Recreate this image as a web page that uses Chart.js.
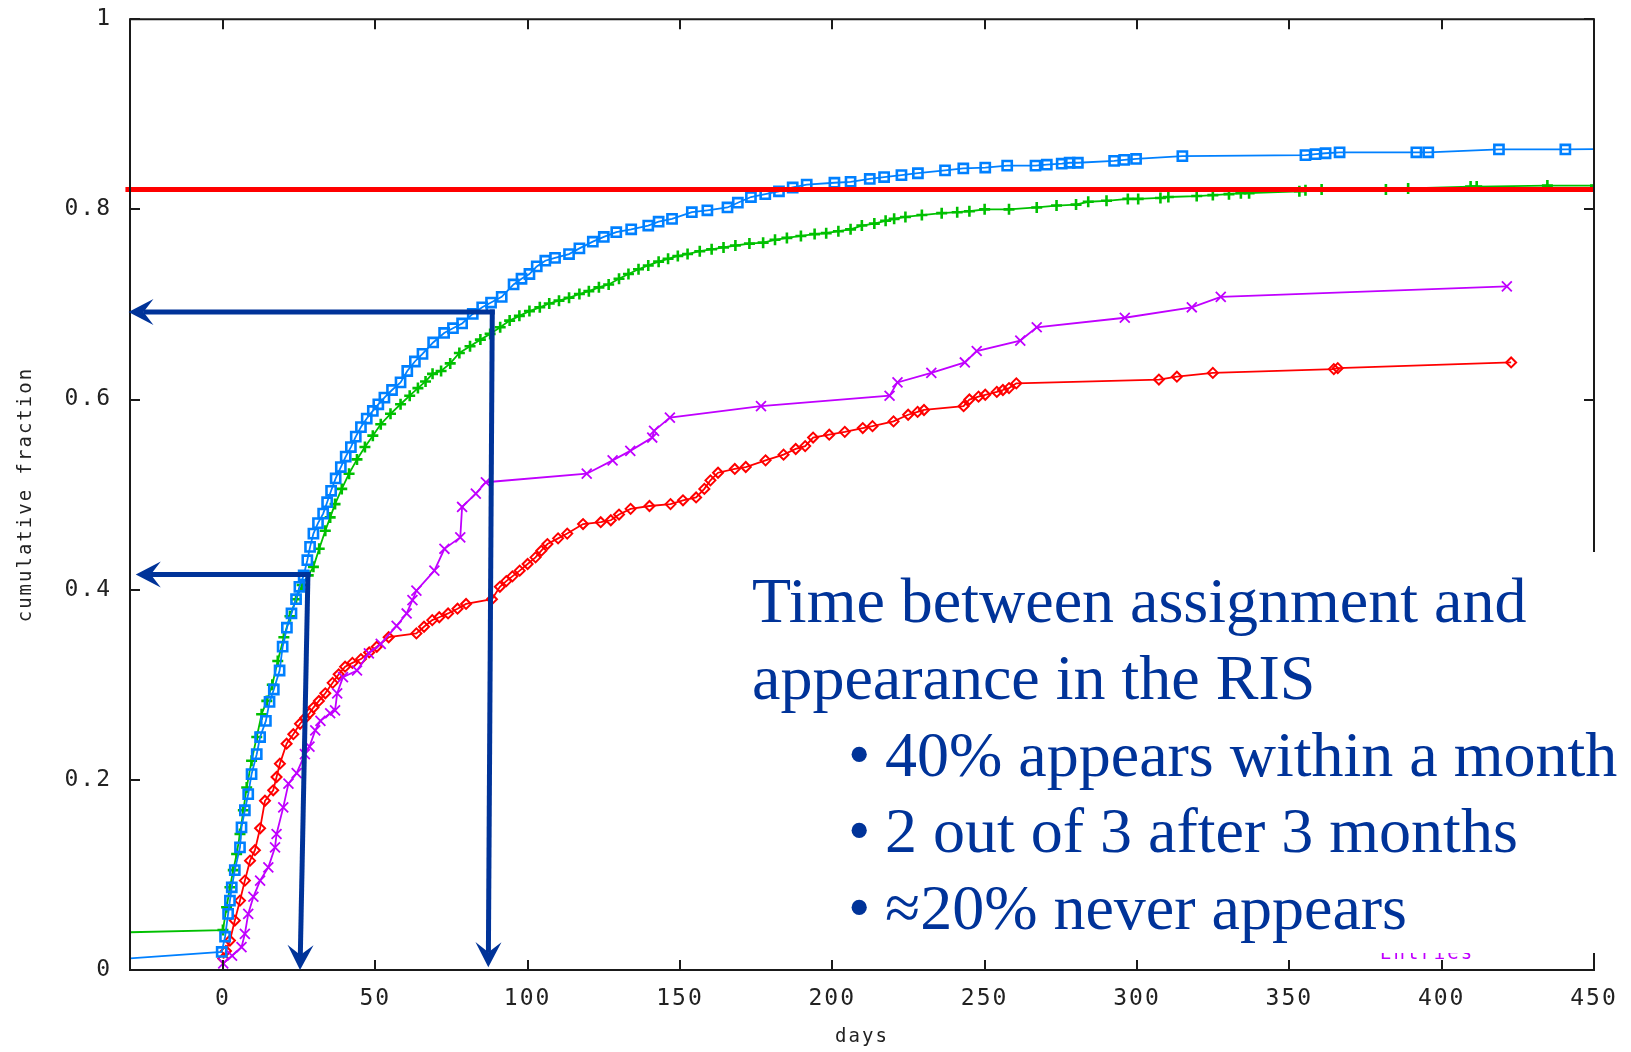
<!DOCTYPE html>
<html>
<head>
<meta charset="utf-8">
<script src="https://cdn.jsdelivr.net/npm/chart.js@4.4.1/dist/chart.umd.min.js"></script>
<style>
html, body { margin: 0; padding: 0; background: #fff; }
#wrap { position: relative; width: 1631px; height: 1052px; overflow: hidden; }
#note {
  position: absolute; left: 738px; top: 552px; width: 893px; height: 401px;
  background: #fff; color: #003399;
  font-family: "Liberation Serif", "Times New Roman", serif; font-size: 64px; line-height: 64px;
}
#note div { position: absolute; white-space: nowrap; }
</style>
</head>
<body>
<div id="wrap">
  <canvas id="chart" width="1631" height="1052"></canvas>
  <div id="note">
    <div style="left:14px; top:17px">Time between assignment and</div>
    <div style="left:14px; top:94px">appearance in the RIS</div>
    <div style="left:110px; top:171px">•</div><div style="left:147px; top:171px">40% appears within a month</div>
    <div style="left:110px; top:247px">•</div><div style="left:147px; top:247px">2 out of 3 after 3 months</div>
    <div style="left:110px; top:324px">•</div><div style="left:147px; top:324px">≈20% never appears</div>
  </div>
</div>
<script>
// ticks
const xTicks = [0, 50, 100, 150, 200, 250, 300, 350, 400, 450];
const yTicks = [0, 0.2, 0.4, 0.6, 0.8, 1];

// cumulative fraction vs days, [days, fraction]
const redSeries = [[0.1,0.012],[1,0.02],[2.3,0.031],[3.9,0.052],[5.6,0.073],[7.2,0.094],[8.9,0.115],[10.5,0.126],[12.2,0.149],[13.8,0.178],[16.5,0.189],[17.6,0.203],[18.7,0.217],[20.9,0.238],[23.1,0.248],[25.3,0.259],[27,0.265],[28.4,0.270],[29.7,0.276],[31.5,0.283],[33.6,0.291],[36,0.302],[38,0.311],[40.1,0.319],[42.5,0.323],[45.3,0.327],[48,0.334],[50.5,0.340],[54.4,0.350],[63.5,0.354],[66,0.361],[68.7,0.368],[71,0.371],[73.9,0.375],[77,0.380],[79.8,0.385],[88.3,0.390],[90.9,0.403],[93,0.409],[95,0.414],[97.4,0.420],[100,0.427],[102.6,0.434],[104.5,0.441],[106.5,0.448],[110,0.454],[113,0.459],[118.2,0.469],[124,0.471],[127.3,0.473],[130,0.479],[133.8,0.485],[140,0.488],[146.9,0.490],[151,0.494],[155.3,0.497],[158,0.506],[160,0.515],[162.5,0.523],[168,0.527],[171.6,0.529],[178.1,0.536],[184,0.542],[188,0.548],[191.1,0.551],[193.7,0.560],[199,0.563],[204.1,0.566],[210,0.570],[213.2,0.572],[220.1,0.577],[224.9,0.584],[228,0.587],[230.1,0.589],[243.1,0.593],[245,0.600],[248,0.603],[250.2,0.605],[254,0.608],[256,0.610],[258,0.612],[260.4,0.617],[307.2,0.621],[313.1,0.624],[324.9,0.628],[364.6,0.632],[365.9,0.633],[422.8,0.639]];

const greenSeries = [[-40,0.039],[0,0.042],[1.2,0.066],[2.3,0.087],[3.4,0.105],[4.5,0.122],[5.6,0.143],[6.7,0.168],[7.8,0.192],[9.4,0.220],[11.1,0.245],[12.7,0.269],[14.4,0.283],[16.2,0.30],[18,0.325],[20,0.35],[22,0.372],[24,0.39],[26,0.405],[28,0.415],[29.7,0.424],[31.6,0.443],[33.6,0.462],[35.2,0.476],[36.8,0.490],[39,0.506],[41.4,0.522],[44,0.537],[46.6,0.550],[49.2,0.562],[51.8,0.574],[55,0.585],[58.3,0.595],[61.3,0.604],[64,0.612],[66.5,0.619],[68.8,0.627],[71.6,0.630],[74.6,0.638],[77.6,0.649],[81.1,0.656],[84.5,0.663],[87.7,0.669],[91,0.676],[94.1,0.683],[97.3,0.688],[100.6,0.693],[104,0.697],[107.1,0.701],[110.3,0.704],[113.6,0.707],[117,0.711],[120.1,0.714],[123.4,0.718],[126.6,0.721],[130,0.727],[133.1,0.732],[136.4,0.737],[139.6,0.741],[143,0.745],[146.1,0.748],[149.3,0.751],[152.5,0.753],[156.5,0.756],[160.4,0.758],[164.3,0.760],[168.2,0.762],[172.8,0.764],[177.3,0.765],[181.2,0.768],[185.1,0.770],[189.7,0.772],[194.2,0.774],[198,0.775],[202,0.777],[206,0.779],[209.7,0.783],[213.8,0.785],[217.5,0.788],[220.3,0.790],[224,0.792],[229.4,0.794],[235.9,0.796],[241,0.797],[245,0.798],[250,0.800],[258,0.800],[267.1,0.802],[273.6,0.804],[280,0.805],[284,0.808],[290,0.809],[297,0.811],[300.4,0.811],[307.7,0.812],[310.3,0.813],[319.6,0.814],[324.9,0.815],[330.2,0.816],[334.1,0.817],[336.8,0.817],[353.3,0.819],[355.3,0.820],[360.6,0.821],[381.7,0.821],[389,0.822],[409.5,0.824],[411.5,0.824],[434.7,0.825],[450.5,0.825]];

const blueSeries = [[-40,0.010],[-0.4,0.019],[0.7,0.035],[1.7,0.059],[2.3,0.073],[2.9,0.087],[3.9,0.105],[5.6,0.129],[6.1,0.150],[7.2,0.168],[8.3,0.185],[9.4,0.206],[11.1,0.227],[12.2,0.245],[14.1,0.262],[15.3,0.282],[16.7,0.295],[18.6,0.315],[19.6,0.340],[21,0.36],[22.5,0.375],[24,0.39],[25.1,0.403],[26.5,0.415],[27.7,0.431],[28.6,0.445],[29.7,0.459],[31.2,0.47],[32.9,0.480],[34.2,0.492],[35.5,0.504],[37,0.517],[38.7,0.529],[40.3,0.540],[42,0.550],[43.6,0.561],[45.3,0.571],[47.2,0.580],[49.2,0.588],[51,0.595],[53,0.602],[55.5,0.610],[58.3,0.618],[60.5,0.630],[63,0.640],[65.5,0.648],[69,0.660],[72.6,0.670],[75.5,0.675],[78.5,0.680],[82,0.690],[85.1,0.697],[88,0.702],[91.5,0.708],[95.4,0.721],[98,0.727],[100.6,0.732],[103,0.740],[105.8,0.746],[109,0.749],[113.6,0.753],[117,0.759],[121.4,0.766],[125,0.771],[129.1,0.776],[134,0.779],[139.6,0.783],[143,0.787],[147.4,0.790],[153.9,0.797],[159,0.799],[165.6,0.802],[169,0.807],[173.3,0.813],[178,0.816],[182.5,0.819],[187,0.823],[191.6,0.826],[200.7,0.828],[206,0.829],[212.3,0.832],[217,0.834],[222.7,0.836],[228.1,0.838],[237,0.841],[243,0.843],[250.2,0.844],[257.4,0.846],[266.7,0.846],[270.4,0.847],[275.3,0.848],[277.9,0.849],[280.6,0.849],[292.5,0.851],[295.8,0.852],[299.7,0.853],[314.9,0.856],[355.3,0.857],[358.6,0.858],[361.9,0.859],[366.5,0.860],[391.7,0.860],[395.6,0.860],[418.8,0.863],[440.6,0.863],[465,0.864]];

const purpleSeries = [[0.1,0.007],[3,0.015],[6.1,0.024],[7.2,0.038],[8.3,0.059],[10,0.077],[12.2,0.094],[14.9,0.108],[17.1,0.129],[17.6,0.143],[19.8,0.171],[21.5,0.196],[24.2,0.207],[26.9,0.227],[28.4,0.235],[30.3,0.252],[32,0.262],[35.2,0.270],[36.8,0.273],[37.5,0.291],[39.4,0.308],[44,0.315],[47.9,0.333],[51.8,0.343],[57,0.362],[60.3,0.375],[62.2,0.389],[63.5,0.399],[69.4,0.420],[72.7,0.443],[77.9,0.455],[78.5,0.487],[83,0.501],[86.3,0.513],[119.4,0.522],[127.9,0.536],[133.7,0.546],[140.9,0.560],[141.5,0.567],[146.7,0.581],[176.6,0.593],[218.8,0.604],[221.4,0.618],[232.5,0.628],[243.5,0.639],[247.4,0.651],[261.7,0.662],[267.1,0.676],[296,0.686],[318,0.697],[327.5,0.708],[421.4,0.719]];

// level line and the arrows, in days / fraction
const refLevel = 0.821;
const refSpan = [-32, 450];
const arrowLines = [
  [88.4, 0.692, -31, 0.692],
  [88.4, 0.692, 87.1, 0.003],
  [27.9, 0.416, -28.6, 0.416],
  [27.9, 0.416, 25.3, 0]
];

function pts(arr) {
  return arr.map(p => ({ x: p[0], y: p[1] }));
}

function drawArrow(ctx, x1, y1, x2, y2) {
  const len = Math.hypot(x2 - x1, y2 - y1);
  const dx = (x2 - x1) / len, dy = (y2 - y1) / len;
  const nx = -dy, ny = dx;
  const L = 25, W = 13, N = 15;
  ctx.beginPath();
  ctx.moveTo(x1 - dx * 2.5, y1 - dy * 2.5);
  ctx.lineTo(x2 - dx * N, y2 - dy * N);
  ctx.stroke();
  ctx.beginPath();
  ctx.moveTo(x2, y2);
  ctx.lineTo(x2 - dx * L + nx * W, y2 - dy * L + ny * W);
  ctx.lineTo(x2 - dx * N, y2 - dy * N);
  ctx.lineTo(x2 - dx * L - nx * W, y2 - dy * L - ny * W);
  ctx.closePath();
  ctx.fill();
}

const gnuplotLook = {
  id: 'gnuplotLook',
  beforeDraw(chart) {
    chart.ctx.letterSpacing = '2px';
  },
  afterDatasetsDraw(chart) {
    const { ctx, chartArea: a, scales: { x, y } } = chart;
    ctx.save();
    ctx.strokeStyle = '#1a1a1a';
    ctx.lineWidth = 2;
    ctx.beginPath();
    ctx.rect(a.left, a.top, a.right - a.left, a.bottom - a.top);
    xTicks.forEach(v => {
      const px = Math.round(x.getPixelForValue(v));
      ctx.moveTo(px, a.bottom); ctx.lineTo(px, a.bottom - 10);
      ctx.moveTo(px, a.top); ctx.lineTo(px, a.top + 10);
    });
    yTicks.forEach(v => {
      const py = Math.round(y.getPixelForValue(v));
      ctx.moveTo(a.left, py); ctx.lineTo(a.left + 10, py);
      ctx.moveTo(a.right, py); ctx.lineTo(a.right - 10, py);
    });
    ctx.stroke();

    // key text, mostly under the note box
    ctx.font = '19px "DejaVu Sans Mono"';
    ctx.fillStyle = '#c000ff';
    ctx.textBaseline = 'alphabetic';
    ctx.fillText('Entries', a.right - 214, a.bottom - 11);

    ctx.strokeStyle = '#003399';
    ctx.fillStyle = '#003399';
    ctx.lineWidth = 5;
    arrowLines.forEach(l => {
      drawArrow(ctx, x.getPixelForValue(l[0]), y.getPixelForValue(l[1]),
                x.getPixelForValue(l[2]), y.getPixelForValue(l[3]));
    });
    ctx.restore();
    ctx.letterSpacing = '0px';
  }
};

const tickFont = { family: 'DejaVu Sans Mono', size: 23 };
const yTickFont = { family: 'DejaVu Sans Mono', size: 23, lineHeight: 0.8 };
const titleFont = { family: 'DejaVu Sans Mono', size: 19 };

new Chart(document.getElementById('chart'), {
  type: 'line',
  data: {
    datasets: [
      {
        data: pts([[refSpan[0], refLevel], [refSpan[1], refLevel]]),
        borderColor: '#ff0000', borderWidth: 5, pointRadius: 0,
        clip: { left: 6, right: 0, top: 0, bottom: 0 }
      },
      {
        data: pts(purpleSeries),
        borderColor: '#c000ff', borderWidth: 1.8,
        pointStyle: 'crossRot', pointRadius: 7, pointBorderWidth: 1.8,
        pointBorderColor: '#c000ff', pointBackgroundColor: 'rgba(0,0,0,0)'
      },
      {
        data: pts(blueSeries),
        borderColor: '#0080ff', borderWidth: 1.8,
        pointStyle: 'rect', pointRadius: 6.5, pointBorderWidth: 2.6,
        pointBorderColor: '#0080ff', pointBackgroundColor: 'rgba(0,0,0,0)'
      },
      {
        data: pts(greenSeries),
        borderColor: '#00c000', borderWidth: 1.8,
        pointStyle: 'cross', pointRadius: 5.5, pointBorderWidth: 2.6,
        pointBorderColor: '#00c000', pointBackgroundColor: 'rgba(0,0,0,0)'
      },
      {
        data: pts(redSeries),
        borderColor: '#ff0000', borderWidth: 1.8,
        pointStyle: 'rectRot', pointRadius: 5, pointBorderWidth: 2,
        pointBorderColor: '#ff0000', pointBackgroundColor: 'rgba(0,0,0,0)'
      }
    ]
  },
  options: {
    responsive: false,
    animation: false,
    events: [],
    layout: { padding: { top: 3, right: 37, left: 0, bottom: 0 } },
    elements: { line: { tension: 0 } },
    plugins: { legend: { display: false }, tooltip: { enabled: false } },
    scales: {
      x: {
        type: 'linear', min: -30.5, max: 450,
        afterBuildTicks: s => { s.ticks = xTicks.map(v => ({ value: v })); },
        afterFit: s => { s.height = 82; },
        grid: { display: false }, border: { display: false },
        ticks: { font: tickFont, color: '#222', padding: 7, maxRotation: 0, autoSkip: false },
        title: { display: true, text: 'days', font: titleFont, color: '#222', padding: { top: 0, bottom: 4 } }
      },
      y: {
        type: 'linear', min: 0, max: 1,
        afterBuildTicks: s => { s.ticks = yTicks.map(v => ({ value: v })); },
        afterFit: s => { s.width = 130; },
        grid: { display: false }, border: { display: false },
        ticks: { font: yTickFont, color: '#222', padding: 10, callback: v => String(v) },
        title: { display: true, text: 'cumulative fraction', font: titleFont, color: '#222', padding: { top: 15, bottom: 0 } }
      }
    }
  },
  plugins: [gnuplotLook]
});
</script>
</body>
</html>
